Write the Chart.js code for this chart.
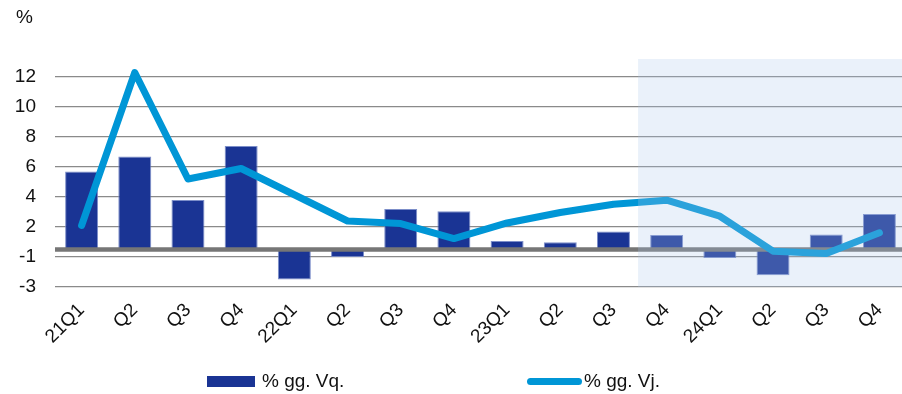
<!DOCTYPE html>
<html>
<head>
<meta charset="utf-8">
<script src="https://cdn.jsdelivr.net/npm/chart.js@4.4.1/dist/chart.umd.min.js"></script>
<style>
  html, body { margin: 0; padding: 0; background: #fff; overflow: hidden; }
  #wrap { position: relative; width: 902px; height: 394px; overflow: hidden; font-family: "Liberation Sans", Arial, sans-serif; color: #111; }
  #chart { position: absolute; left: 0; top: 0; }
  .unit { position: absolute; left: 16px; top: 6px; font-size: 19px; }
  .leg { position: absolute; top: 370px; font-size: 19px; line-height: 22px; }
  .sw-bar { position: absolute; left: 207px; top: 376px; width: 48px; height: 11px; background: #1A3494; }
  .sw-line { position: absolute; left: 527px; top: 378px; width: 55px; height: 7px; border-radius: 4px; background: #0096D6; }
</style>
</head>
<body>
<div id="wrap">
  <canvas id="chart" width="906" height="394"></canvas>
  <div class="unit">%</div>
  <div class="sw-bar"></div>
  <div class="leg" style="left:262px;">% gg. Vq.</div>
  <div class="sw-line"></div>
  <div class="leg" style="left:584px;">% gg. Vj.</div>
</div>
<script>
const categories = ['21Q1','Q2','Q3','Q4','22Q1','Q2','Q3','Q4','23Q1','Q2','Q3','Q4','24Q1','Q2','Q3','Q4'];
const qoqValues = [5.2, 6.2, 3.3, 6.9, -2.0, -0.5, 2.7, 2.55, 0.57, 0.49, 1.2, 0.97, -0.56, -1.71, 1.0, 2.37];
const yoyValues = [1.6, 11.8, 4.7, 5.4, 3.65, 1.9, 1.73, 0.73, 1.77, 2.47, 3.02, 3.29, 2.22, -0.11, -0.27, 1.11];
const yTickValues = [-2.5, -0.5, 1.5, 3.5, 5.5, 7.5, 9.5, 11.5];
const forecastStartIndex = 11;
const qoqLabel = '% gg. Vq.';
const yoyLabel = '% gg. Vj.';

const FONT = '"Liberation Sans", Arial, sans-serif';

const zeroLinePlugin = {
  id: 'zeroLine',
  afterDatasetDraw(chart, args) {
    if (args.index !== 0) return;
    const { ctx, chartArea, scales } = chart;
    const y = scales.y.getPixelForValue(0);
    ctx.save();
    ctx.strokeStyle = '#767676';
    ctx.lineWidth = 4.5;
    ctx.beginPath();
    ctx.moveTo(chartArea.left, y);
    ctx.lineTo(chartArea.right, y);
    ctx.stroke();
    ctx.restore();
  }
};

const shadePlugin = {
  id: 'shade',
  afterDatasetsDraw(chart) {
    const { ctx, chartArea, scales } = chart;
    const x = (scales.x.getPixelForValue(forecastStartIndex - 1) + scales.x.getPixelForValue(forecastStartIndex)) / 2 - 2;
    ctx.save();
    ctx.fillStyle = 'rgba(172,198,235,0.25)';
    ctx.fillRect(x, chartArea.top, chartArea.right - x, chartArea.bottom - chartArea.top);
    ctx.restore();
  }
};

new Chart(document.getElementById('chart'), {
  data: {
    labels: categories,
    datasets: [
      {
        type: 'bar',
        label: qoqLabel,
        data: qoqValues,
        backgroundColor: '#1A3494',
        borderColor: 'rgba(110,130,195,0.9)',
        borderWidth: 1,
        borderSkipped: false,
        barPercentage: 0.62,
        categoryPercentage: 1.0,
        order: 2
      },
      {
        type: 'line',
        label: yoyLabel,
        data: yoyValues,
        borderColor: '#0096D6',
        borderWidth: 7,
        borderCapStyle: 'round',
        borderJoinStyle: 'round',
        pointRadius: 0,
        tension: 0,
        clip: false,
        order: 1
      }
    ]
  },
  options: {
    responsive: false,
    animation: false,
    layout: { padding: { top: 59, left: 0, right: 0, bottom: 0 } },
    plugins: { legend: { display: false }, tooltip: { enabled: false } },
    scales: {
      x: {
        offset: true,
        grid: { display: false, drawTicks: false },
        border: { display: false },
        ticks: {
          minRotation: 45, maxRotation: 45, autoSkip: false,
          padding: 12,
          color: '#111',
          font: { family: FONT, size: 19 }
        },
        afterFit(scale) {
          scale.height = 107;
          scale.paddingLeft = 0;
          scale.paddingRight = 0;
        }
      },
      y: {
        min: -2.5,
        max: 12.7,
        afterBuildTicks(scale) { scale.ticks = yTickValues.map(v => ({ value: v })); },
        afterFit(scale) { scale.width = 55; scale.paddingTop = 0; scale.paddingBottom = 0; },
        grid: { color: '#8a8a8a', lineWidth: 1.3, drawTicks: false },
        border: { display: false },
        ticks: {
          padding: 19,
          color: '#111',
          font: { family: FONT, size: 19 },
          callback: v => String(Math.sign(v) * Math.round(Math.abs(v)))
        }
      }
    }
  },
  plugins: [zeroLinePlugin, shadePlugin]
});
</script>
</body>
</html>
